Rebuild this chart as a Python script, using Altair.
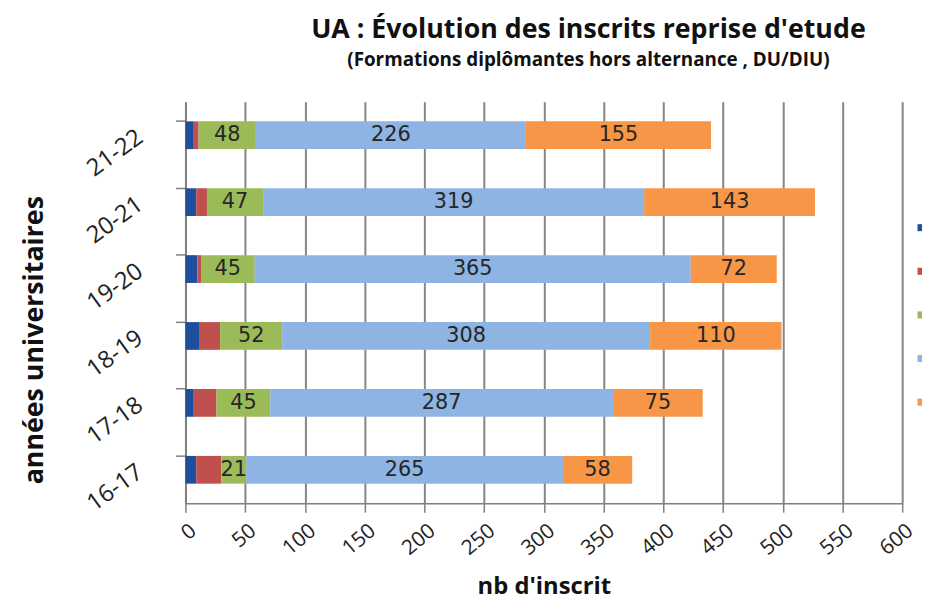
import altair as alt
import pandas as pd

years = ["21-22", "20-21", "19-20", "18-19", "17-18", "16-17"]
series = ["Série 1", "Série 2", "Série 3", "Série 4", "Série 5"]
colors = ["#1F4E9C", "#C0504D", "#9BBB59", "#8DB4E2", "#F79646"]
s1 = [7, 9, 10, 12, 7, 9]
s2 = [4, 9, 3, 17, 19, 21]
s3 = [48, 47, 45, 52, 45, 21]
s4 = [226, 319, 365, 308, 287, 265]
s5 = [155, 143, 72, 110, 75, 58]
x_ticks = list(range(0, 601, 50))

rows = []
for si, (name, vals) in enumerate(zip(series, [s1, s2, s3, s4, s5])):
    for y, v in zip(years, vals):
        rows.append({"annee": y, "serie": name, "ordre": si, "valeur": v,
                     "show": si >= 2})
df = pd.DataFrame(rows)

FONT = "Open Sans"

base = alt.Chart(df).transform_stack(
    stack="valeur", groupby=["annee"], as_=["x0", "x1"],
    sort=[alt.SortField("ordre", order="ascending")]
).transform_calculate(mid="(datum.x0 + datum.x1) / 2")

yenc = alt.Y("annee:N", sort=years, title="années universitaires",
             scale=alt.Scale(paddingInner=0.58, paddingOuter=0.29),
             axis=alt.Axis(labelAngle=-36, labelAlign="right", labelBaseline="middle",
                           labelFontSize=24, labelFont=FONT, labelColor="#222",
                           labelPadding=36, tickSize=10, bandPosition=0,
                           tickColor="#7f7f7f", tickWidth=1.5, domainColor="#7f7f7f",
                           domainWidth=1.5, titleFont=FONT, titleFontSize=27,
                           titleFontWeight="bold", titleColor="#111",
                           titleX=-152, titleY=240, titleAngle=-90,
                           titleBaseline="middle", titleAlign="center",
                           grid=False))

bars = base.mark_bar(size=28).encode(
    x=alt.X("x0:Q", title="nb d'inscrit",
            scale=alt.Scale(domain=[0, 600], nice=False),
            axis=alt.Axis(values=x_ticks, labelAngle=-40, labelAlign="right",
                          labelBaseline="middle", labelFontSize=21, labelFont=FONT,
                          labelColor="#222", labelPadding=16, labelOffset=8,
                          tickSize=9, labelBound=False, labelOverlap=False,
                          tickColor="#7f7f7f", tickWidth=1.5, domainColor="#7f7f7f",
                          domainWidth=1.5, grid=True, gridColor="#858585",
                          gridWidth=2, titleFont=FONT, titleFontSize=24,
                          titleFontWeight="bold", titleColor="#111", titlePadding=16)),
    x2="x1:Q",
    y=yenc,
    color=alt.Color("serie:N", scale=alt.Scale(domain=series, range=colors),
                    legend=alt.Legend(orient="none", legendX=738, legendY=123,
                                      title=None, symbolType="square", symbolSize=50,
                                      symbolStrokeWidth=0, labelExpr="''",
                                      labelFontSize=1, rowPadding=36)),
    order=alt.Order("ordre:Q"),
)

labels = base.transform_filter("datum.show").mark_text(
    font="DejaVu Sans", fontSize=21, color="#262626"
).encode(
    x="mid:Q",
    y=alt.Y("annee:N", sort=years),
    text="valeur:Q",
)

chart = alt.layer(bars, labels).properties(
    width=723, height=405,
    title=alt.TitleParams(
        "UA : Évolution des inscrits reprise d'etude",
        subtitle="(Formations diplômantes hors alternance , DU/DIU)",
        font=FONT, fontSize=27, fontWeight="bold", color="#111",
        subtitleFont=FONT, subtitleFontSize=19, subtitleFontWeight="bold",
        subtitleColor="#111", anchor="middle", frame="group", dx=45,
        offset=31, subtitlePadding=7),
    autosize=alt.AutoSizeParams(type="none"),
    padding={"left": 179, "top": 92, "right": 20, "bottom": 95},
).configure_view(stroke=None)

chart.save("out.html", embed_options={"renderer": "svg", "actions": False})
